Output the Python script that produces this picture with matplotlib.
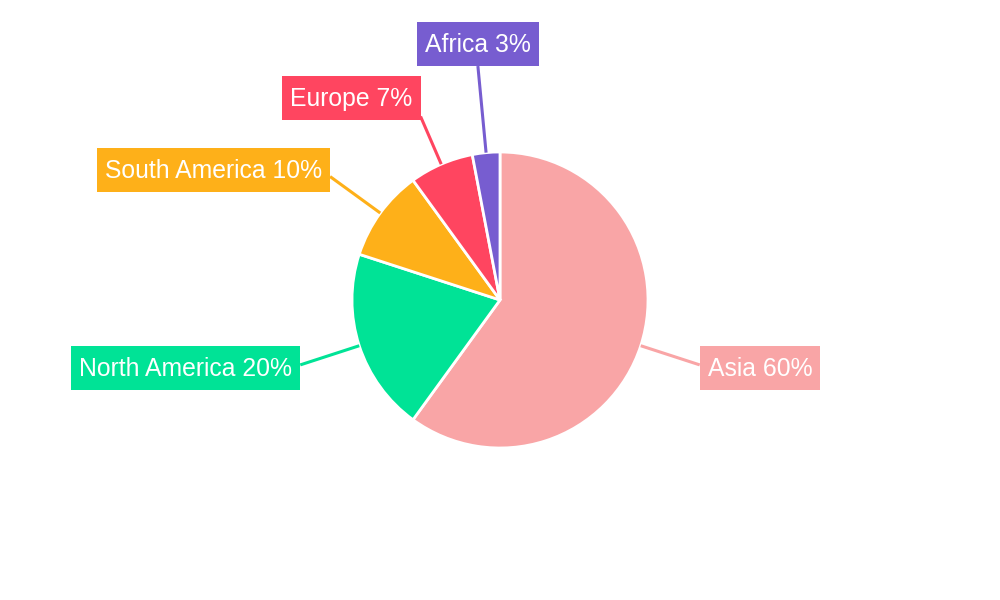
import numpy as np
import matplotlib
matplotlib.use('Agg')
import matplotlib.pyplot as plt
from matplotlib.patches import Rectangle

plt.rcParams['font.family'] = ['Liberation Sans', 'DejaVu Sans']

regions = ['Asia', 'North America', 'South America', 'Europe', 'Africa']
shares = [60, 20, 10, 7, 3]
colors = ['#F9A5A6', '#00E396', '#FEB019', '#FF4560', '#775DD0']

# label layout: leader-line length, box anchor on the line end, small vertical nudge
line_r = [210, 210, 210, 200, 235]
ha_list = ['left', 'right', 'right', 'right', 'center']
va_list = ['center', 'center', 'center', 'bottom', 'bottom']
nudge = [-3, -3, 7, -4, 0]

cx, cy, R = 500, 300, 148
box_h, pad_x = 44, 8

fig = plt.figure(figsize=(10, 6), dpi=100)
ax = fig.add_axes([0, 0, 1, 1])
ax.pie(shares, colors=colors, startangle=90, counterclock=False,
       center=(cx, cy), radius=R,
       wedgeprops=dict(edgecolor='white', linewidth=2))
ax.set_xlim(0, 1000)
ax.set_ylim(0, 600)
ax.set_aspect('equal')
ax.axis('off')

renderer = fig.canvas.get_renderer()
total = sum(shares)
cum = 0
for name, v, c, r, ha, va, dn in zip(regions, shares, colors, line_r, ha_list, va_list, nudge):
    mid = (cum + v / 2) / total * 2 * np.pi
    cum += v
    dx, dy = np.sin(mid), np.cos(mid)
    x0, y0 = cx + R * dx, cy + R * dy
    x1, y1 = cx + r * dx, cy + r * dy
    ax.plot([x0, x1], [y0, y1], color=c, lw=2.2, solid_capstyle='butt', zorder=1)

    t = ax.text(0, 0, f'{name} {v}%', ha='center', va='baseline', color='white',
                fontsize=17.8, zorder=4)
    w = t.get_window_extent(renderer).width + 2 * pad_x
    if ha == 'left':
        bx = x1
    elif ha == 'right':
        bx = x1 - w
    else:
        bx = x1 - w / 2
    if va == 'bottom':
        by = y1 + dn
    else:
        by = y1 + dn - box_h / 2
    ax.add_patch(Rectangle((bx, by), w, box_h, fc=c, ec='none', zorder=3))
    t.set_position((bx + w / 2, by + box_h / 2 - 8))

fig.savefig('out.png', dpi=100, facecolor='white')
